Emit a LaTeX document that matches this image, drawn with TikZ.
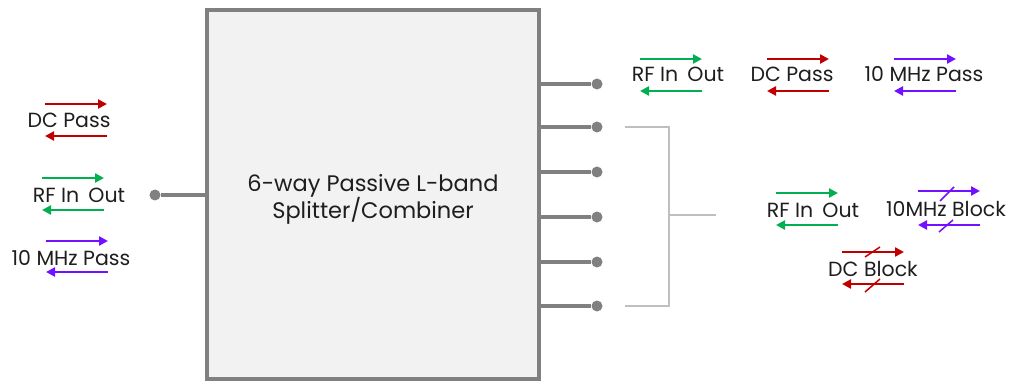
\documentclass[tikz,border=0pt]{standalone}
\usepackage{fontspec}
\setmainfont{Poppins}
\usetikzlibrary{arrows.meta}
\definecolor{rred}{HTML}{C00000}
\definecolor{rgreen}{HTML}{00B050}
\definecolor{rpurple}{HTML}{7111FF}
\definecolor{portgray}{HTML}{808080}
\definecolor{boxfill}{HTML}{F2F2F2}
\definecolor{bgray}{HTML}{BFBFBF}
\definecolor{txt}{HTML}{1E1E1E}
\newcommand{\sigpair}[5]{%
  \draw[sig,draw=#5,fill=#5] (#1,#3) -- (#2,#3);
  \draw[sig,draw=#5,fill=#5] (#2,#4) -- (#1,#4);}
\begin{document}
\begin{tikzpicture}[x=1pt,y=-1pt,
  lbl/.style={font=\fontsize{20.5}{24}\selectfont, text=txt, inner sep=0pt},
  sig/.style={line width=2.3pt, -{Triangle[length=9pt,width=9pt]}},
  port/.style={line width=4pt, draw=portgray},
  dot/.style={circle, fill=portgray, minimum size=11pt, inner sep=0pt},
  brk/.style={draw=bgray, line width=1.5pt},
  slash/.style={line width=1.5pt}]
\useasboundingbox (0,0) rectangle (1018,385);
% main box
\node[draw=portgray, line width=4.5pt, fill=boxfill, minimum width=332pt,
      minimum height=369pt, inner sep=0pt] (box) at (373,194.5) {};
\node[lbl, align=center, font=\fontsize{22.5}{27}\selectfont] (title) at (373,199)
  {6-way Passive L-band\\Splitter/Combiner};
% left port
\node[dot] (pL) at (155,195) {};
\draw[port] (box.west |- pL) -- (pL);
% right ports
\foreach \i/\y in {1/84,2/127,3/172,4/217,5/262,6/306}{
  \node[dot] (p\i) at (597,\y) {};
  \draw[port] (box.east |- p\i) -- (p\i);
}
% bracket
\coordinate (b1) at (625,127);
\coordinate (b2) at (625,306);
\coordinate (bm) at (716,215);
\draw[brk] (b1) -- (669,127) -- (669,306) -- (b2);
\draw[brk] (669,215) -- (bm);
% left labels
\node[lbl] (lDC) at (69,120) {DC Pass};
\sigpair{45}{107}{104}{136}{rred}
\node[lbl] (lRF) at (79,195) {RF In\hspace{0.45em}Out};
\sigpair{42}{104}{178}{210}{rgreen}
\node[lbl] (l10) at (71,258) {10 MHz Pass};
\sigpair{46}{108}{241}{272}{rpurple}
% top right labels
\node[lbl] (tRF) at (678,74) {RF In\hspace{0.45em}Out};
\sigpair{640}{702}{59}{91}{rgreen}
\node[lbl] (tDC) at (792,74) {DC Pass};
\sigpair{767}{829}{59}{91}{rred}
\node[lbl] (t10) at (924,74) {10 MHz Pass};
\sigpair{894}{956}{59}{91}{rpurple}
% middle right labels
\node[lbl] (mRF) at (813,210) {RF In\hspace{0.45em}Out};
\sigpair{776}{838}{193}{225}{rgreen}
\node[lbl] (m10) at (946,209) {10MHz Block};
\sigpair{918}{980}{191}{225}{rpurple}
\draw[slash,rpurple] (940,201) -- (954,187);
\draw[slash,rpurple] (939,232) -- (953,220);
\node[lbl] (mDC) at (873,269) {DC Block};
\sigpair{842}{904}{252}{284}{rred}
\draw[slash,rred] (865,257) -- (880,247);
\draw[slash,rred] (865,292) -- (880,279);
\end{tikzpicture}
\end{document}
